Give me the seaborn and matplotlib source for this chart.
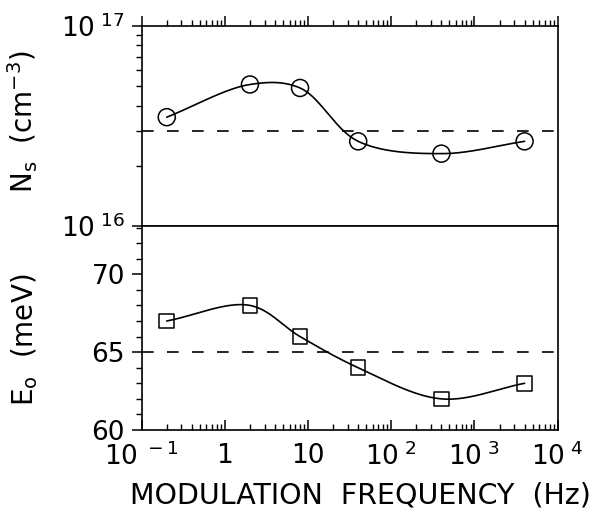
import matplotlib
matplotlib.use('Agg')
import matplotlib.pyplot as plt
import matplotlib.ticker as mticker
import seaborn as sns
import numpy as np

# values
freq = [0.2, 2, 8, 40, 400, 4000]          # Hz
ns = [3.5e16, 5.1e16, 4.9e16, 2.65e16, 2.3e16, 2.65e16]   # cm^-3
e0 = [67, 68, 66, 64, 62, 63]             # meV
ns_ref = 3.0e16
e0_ref = 65

x_ticks = [0.1, 1, 10, 100, 1000, 10000]
x_ticklabels = [r'10$^{\ -1}$', '1', '10', r'10$^{\ 2}$', r'10$^{\ 3}$', r'10$^{\ 4}$']
ns_ticks = [1e16, 1e17]
ns_ticklabels = [r'10$^{\ 16}$', r'10$^{\ 17}$']
e0_ticks = [60, 65, 70]


def smooth(u, v, sx, sy, n=40, alpha=0.5):
    # centripetal catmull-rom curve through the measured points (drawing only)
    P = np.column_stack([np.asarray(u) * sx, np.asarray(v) * sy])
    P = np.vstack([2*P[0]-P[1], P, 2*P[-1]-P[-2]])
    out = []
    for i in range(1, len(P)-2):
        p0, p1, p2, p3 = P[i-1:i+3]
        t0 = 0.0
        t1 = t0 + np.linalg.norm(p1-p0)**alpha
        t2 = t1 + np.linalg.norm(p2-p1)**alpha
        t3 = t2 + np.linalg.norm(p3-p2)**alpha
        t = np.linspace(t1, t2, n)[:, None]
        a1 = (t1-t)/(t1-t0)*p0 + (t-t0)/(t1-t0)*p1
        a2 = (t2-t)/(t2-t1)*p1 + (t-t1)/(t2-t1)*p2
        a3 = (t3-t)/(t3-t2)*p2 + (t-t2)/(t3-t2)*p3
        b1 = (t2-t)/(t2-t0)*a1 + (t-t0)/(t2-t0)*a2
        b2 = (t3-t)/(t3-t1)*a2 + (t-t1)/(t3-t1)*a3
        out.append((t2-t)/(t2-t1)*b1 + (t-t1)/(t2-t1)*b2)
    out = np.vstack(out)
    return out[:, 0] / sx, out[:, 1] / sy


sns.set_style('ticks')
plt.rcParams['font.family'] = ['DejaVu Sans']
plt.rcParams['axes.linewidth'] = 1.2
plt.rcParams['text.color'] = 'black'
plt.rcParams['axes.labelcolor'] = 'black'
plt.rcParams['xtick.color'] = 'black'
plt.rcParams['ytick.color'] = 'black'

fig = plt.figure(figsize=(6.14, 5.15), dpi=100)
ax1 = fig.add_axes([0.2308, 0.5612, 0.6775, 0.3883])
ax2 = fig.add_axes([0.2308, 0.165, 0.6775, 0.3962])

lw = 1.2
fs = 19

# ---- top panel: Ns
u, v = smooth(np.log10(freq), np.log10(ns), 83.2, 200)
sns.lineplot(x=10**u, y=10**v, sort=False, estimator=None, color='black',
             linewidth=lw, ax=ax1)
sns.scatterplot(x=freq, y=ns, marker='o', s=150, facecolor='none',
                edgecolor='black', linewidth=1.1, ax=ax1, zorder=3)
ax1.axhline(ns_ref, color='black', linewidth=lw, dashes=(7, 8))
ax1.set_xscale('log')
ax1.set_yscale('log')
ax1.set_xlim(0.1, 10000)
ax1.set_ylim(1e16, 1e17)
ax1.set_yticks(ns_ticks)
ax1.set_yticklabels(ns_ticklabels)
ax1.yaxis.set_minor_locator(mticker.LogLocator(base=10, subs=np.arange(2, 10)))
ax1.yaxis.set_minor_formatter(mticker.NullFormatter())
ax1.xaxis.set_ticks_position('top')
ax1.set_xticks(x_ticks)
ax1.xaxis.set_minor_locator(mticker.LogLocator(base=10, subs=np.arange(2, 10)))
ax1.tick_params(axis='x', which='both', labeltop=False, labelbottom=False, direction='out')
ax1.set_ylabel(r'N$_\mathregular{s}$  (cm$^{-3}$)', fontsize=20)
ax1.yaxis.set_label_coords(-0.245, 0.52)

# ---- bottom panel: E0
u, v = smooth(np.log10(freq), np.array(e0, dtype=float), 83.2, 15.5)
sns.lineplot(x=10**u, y=v, sort=False, estimator=None, color='black',
             linewidth=lw, ax=ax2)
sns.scatterplot(x=freq, y=e0, marker='s', s=110, facecolor='none',
                edgecolor='black', linewidth=1.1, ax=ax2, zorder=3)
ax2.axhline(e0_ref, color='black', linewidth=lw, dashes=(7, 8))
ax2.set_xscale('log')
ax2.set_xlim(0.1, 10000)
ax2.set_ylim(60, 73.1)
ax2.set_yticks(e0_ticks)
ax2.yaxis.set_minor_locator(mticker.MultipleLocator(1))
ax2.set_xticks(x_ticks)
ax2.set_xticklabels(x_ticklabels)
ax2.xaxis.set_minor_locator(mticker.LogLocator(base=10, subs=np.arange(2, 10)))
ax2.xaxis.set_minor_formatter(mticker.NullFormatter())
ax2.tick_params(axis='x', which='both', direction='in', top=False)
ax2.set_ylabel(r'E$_\mathregular{o}$  (meV)', fontsize=20)
ax2.yaxis.set_label_coords(-0.245, 0.44)
ax2.set_xlabel('MODULATION  FREQUENCY  (Hz)', fontsize=20.5)
ax2.xaxis.set_label_coords(0.525, -0.25)

for ax in (ax1, ax2):
    ax.tick_params(axis='both', which='major', labelsize=fs, length=7, width=1.1)
    ax.tick_params(axis='both', which='minor', length=4, width=1.0)
    ax.tick_params(axis='y', which='both', direction='out', right=False, pad=5)
    for s in ax.spines.values():
        s.set_color('black')
ax2.tick_params(axis='x', which='major', pad=9)

fig.savefig('out.png', dpi=100)
